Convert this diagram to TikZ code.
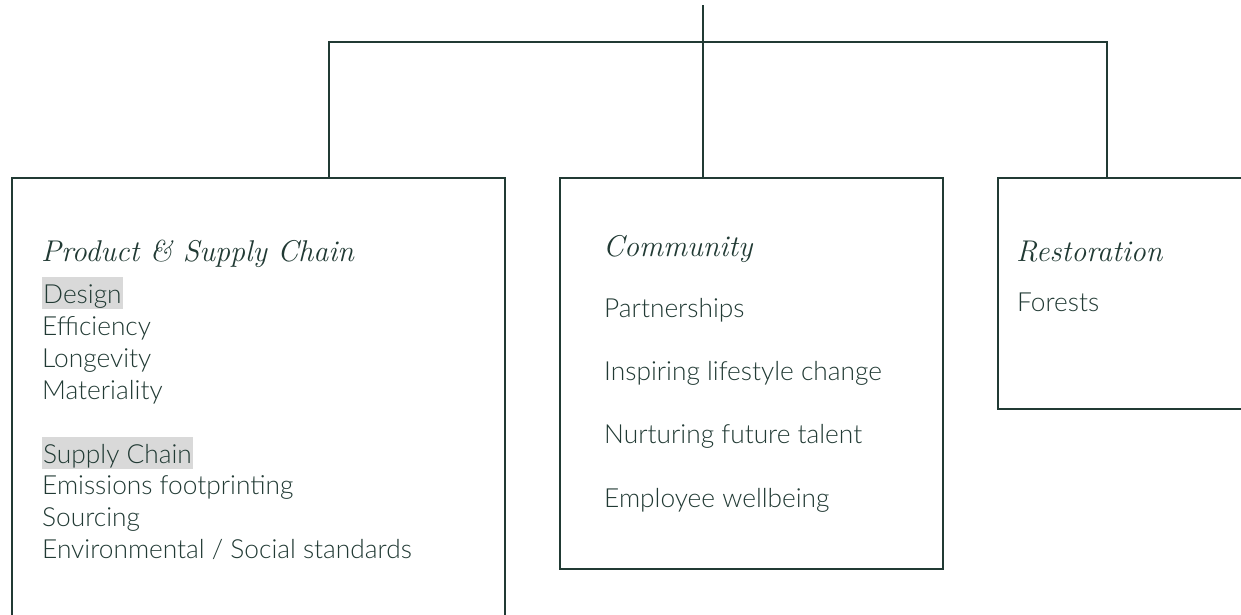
\documentclass[tikz,border=0pt]{standalone}
\usepackage{fontspec}
\newfontfamily\bodyfont{Lato Light}
\definecolor{ink}{HTML}{213A34}
\definecolor{hl}{HTML}{D9D9D9}
\begin{document}
\begin{tikzpicture}[x=1pt,y=-1pt,
  frame/.style={draw=ink,line width=1.6pt},
  conn/.style={draw=ink,line width=1.6pt},
  ttl/.style={anchor=base west,inner sep=0pt,text=ink,font=\fontsize{30}{36}\selectfont\itshape},
  itm/.style={anchor=base west,inner sep=0pt,text=ink,font=\bodyfont\fontsize{26.3}{30}\selectfont},
  hitm/.style={itm,fill=hl,inner xsep=1pt,inner ysep=0pt,text depth=6pt,text height=26pt}]
\useasboundingbox (0,0) rectangle (1241,614);
\fill[white] (0,0) rectangle (1241,614);
\begin{scope}
\clip (0,0) rectangle (1241,614);
% boxes
\path[frame] (12,178) rectangle (505,640);
\path[frame] (560,178) rectangle (943,569);
\path[frame] (998,178) rectangle (1260,409);
\node[inner sep=0pt,minimum width=493pt,minimum height=462pt,anchor=north west] (b1) at (12,178) {};
\node[inner sep=0pt,minimum width=383pt,minimum height=391pt,anchor=north west] (b2) at (560,178) {};
\node[inner sep=0pt,minimum width=262pt,minimum height=231pt,anchor=north west] (b3) at (998,178) {};
% connectors
\coordinate (top) at (703,5);
\coordinate (hl) at (329,42);
\coordinate (hr) at (1107,42);
\draw[conn] (top) -- (top |- b2.north);
\draw[conn] (hl |- b1.north) -- (hl) -- (hr) -- (hr |- b3.north);
% box 1
\node[ttl] (t1) at (41,261) {Product \& Supply Chain};
\node[hitm] (i11) at (42,303) {Design};
\node[itm] (i12) at (42,335) {Efficiency};
\node[itm] (i13) at (42,367) {Longevity};
\node[itm] (i14) at (42,399) {Materiality};
\node[hitm] (i15) at (42,463) {Supply Chain};
\node[itm] (i16) at (42,494.5) {Emissions footprinting};
\node[itm] (i17) at (42,526.5) {Sourcing};
\node[itm] (i18) at (42,558.5) {Environmental / Social standards};
% box 2
\node[ttl] (t2) at (603,256) {Community};
\node[itm] (i21) at (604,317) {Partnerships};
\node[itm] (i22) at (604,380) {Inspiring lifestyle change};
\node[itm] (i23) at (604,443.5) {Nurturing future talent};
\node[itm] (i24) at (604,507) {Employee wellbeing};
% box 3
\node[ttl] (t3) at (1016,261) {Restoration};
\node[itm] (i31) at (1017,311) {Forests};
\end{scope}
\end{tikzpicture}
\end{document}
